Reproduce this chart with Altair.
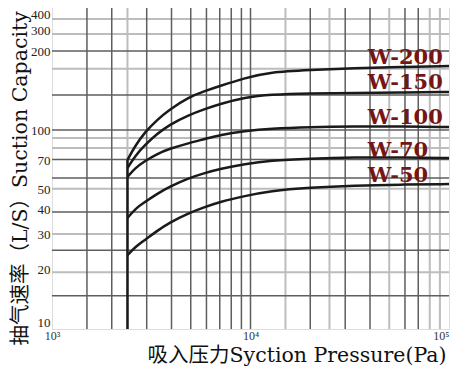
import altair as alt
import pandas as pd

# ---------------- data ----------------
pressure = [2400, 2620, 2940, 3380, 3880, 4900, 5900, 7000, 9370, 12500,
            19950, 33500, 56600, 100000]
w200 = [70.7, 83.1, 97.7, 109.2, 119.2, 133.6, 140.8, 147.1, 157.8, 166.4,
        169.3, 172.3, 173.8, 175.4]
w150 = [64.4, 74.0, 84.1, 95.5, 104.5, 114.1, 120.2, 125.6, 133.0, 136.6,
        138.1, 138.3, 139.0, 139.6]
w100 = [58.1, 64.4, 69.9, 75.8, 80.3, 86.0, 90.1, 94.4, 98.8, 101.3,
        102.7, 103.1, 103.1, 102.7]
w70 = [36.1, 40.1, 43.5, 47.7, 51.7, 57.4, 60.8, 63.7, 67.5, 70.3,
       71.9, 72.8, 72.8, 72.3]
w50 = [23.5, 25.8, 28.0, 31.1, 34.1, 38.3, 41.0, 43.5, 46.6, 49.4,
       51.4, 52.6, 53.2, 53.5]
models = ["W-200", "W-150", "W-100", "W-70", "W-50"]
label_x = [39000, 39000, 39000, 39000, 39000]
label_y = [188, 151, 111, 78.3, 58.7]

start_x = [2400]
start_y = [10]
start_y2 = [70.7]

y_ticks = [10, 20, 30, 40, 50, 70, 100, 200, 300, 400]
x_ticks = [1000, 10000, 100000]

grid_x_dark = [1500, 2000, 3000, 4000, 5000, 6000, 7000, 8000, 9000, 10000,
               20000, 30000, 40000, 60000, 70000]
grid_x_light = [2400, 15000, 25000, 50000, 80000, 90000]
grid_y_dark = [200, 136, 100, 71, 57.4, 38.7, 24.9, 14.7]
grid_y_light = [365, 278, 171, 91.2, 81.3, 50.6, 30, 19.3]

# ---------------- tables ----------------
series = [w200, w150, w100, w70, w50]
rows = []
for m, vals in zip(models, series):
    for p, v in zip(pressure, vals):
        rows.append({"model": m, "p": p, "s": v})
curves = pd.DataFrame(rows)
labels = pd.DataFrame({"model": models, "x": label_x, "y": label_y})
vrule = pd.DataFrame({"x": start_x, "y": start_y, "y2": start_y2})

W, H = 397, 324
SERIF_CJK = "DejaVu Serif, Noto Sans CJK SC"
SERIF = "Liberation Serif"

xscale = alt.Scale(type="log", domain=[1000, 100000])
yscale = alt.Scale(type="log", domain=[10, 100, 200, 300, 400],
                   range=[324, 125, 46, 25, 9])

xaxis = alt.Axis(
    values=x_ticks, grid=False, ticks=False, domain=False,
    labelExpr="datum.value == 1000 ? '10³' : datum.value == 10000 ? '10⁴' : '10⁵'",
    labelFont=SERIF, labelFontSize=12, labelColor="#333", labelPadding=1,
    labelAlign={"condition": {"test": "datum.value >= 100000", "value": "right"}, "value": "center"},
    title="吸入压力Syction Pressure(Pa)", titleFont=SERIF_CJK, titleFontSize=20.5,
    titleFontWeight="normal", titleColor="#111",
    titleAnchor="end", titleAlign="right", titleBaseline="alphabetic",
    titleX=394, titleY=32,
)
yaxis = alt.Axis(
    values=y_ticks, grid=False, ticks=False, domain=False,
    labelFont=SERIF, labelFontSize=13, labelColor="#222", labelPadding=2,
    labelBaseline={"condition": {"test": "datum.value == 10", "value": "bottom"}, "value": "middle"},
    format="d",
    title="抽气速率（L/S）Suction Capacity", titleFont=SERIF_CJK, titleFontSize=20.5,
    titleFontWeight="normal", titleColor="#111",
    titleAngle=270, titleAlign="left", titleBaseline="middle",
    titleX=-32, titleY=340,
)

gx_light = alt.Chart(pd.DataFrame({"v": grid_x_light})).mark_rule(
    color="#bdbdbd", strokeWidth=2).encode(x=alt.X("v:Q", scale=xscale, axis=xaxis))
gx_dark = alt.Chart(pd.DataFrame({"v": grid_x_dark})).mark_rule(
    color="#5e5e5e", strokeWidth=1.5).encode(x=alt.X("v:Q", scale=xscale, axis=xaxis))
gy_light = alt.Chart(pd.DataFrame({"v": grid_y_light})).mark_rule(
    color="#bdbdbd", strokeWidth=2).encode(y=alt.Y("v:Q", scale=yscale, axis=yaxis))
gy_dark = alt.Chart(pd.DataFrame({"v": grid_y_dark})).mark_rule(
    color="#5e5e5e", strokeWidth=1.5).encode(y=alt.Y("v:Q", scale=yscale, axis=yaxis))

lines = alt.Chart(curves).mark_line(
    color="#1a1a1a", strokeWidth=2.5, interpolate="basis").encode(
    x=alt.X("p:Q", scale=xscale, axis=xaxis),
    y=alt.Y("s:Q", scale=yscale, axis=yaxis),
    detail="model:N",
)
rule = alt.Chart(vrule).mark_rule(color="#1a1a1a", strokeWidth=2.5).encode(
    x=alt.X("x:Q", scale=xscale, axis=xaxis),
    y=alt.Y("y:Q", scale=yscale, axis=yaxis),
    y2="y2:Q",
)
texts = alt.Chart(labels).mark_text(
    align="left", baseline="middle", font=SERIF_CJK, fontSize=21,
    fontWeight="bold", color="#741616").encode(
    x=alt.X("x:Q", scale=xscale, axis=xaxis),
    y=alt.Y("y:Q", scale=yscale, axis=yaxis),
    text="model:N",
)

chart = alt.layer(gx_light, gy_light, gx_dark, gy_dark, lines, rule, texts).properties(
    width=W, height=H,
    autosize=alt.AutoSizeParams(type="none"),
    padding={"left": 44, "top": -3, "right": 7, "bottom": 38},
).configure_view(stroke="#333", strokeWidth=1.5).configure(background="white")

chart.save("out.html", embed_options={"renderer": "svg", "actions": False})
